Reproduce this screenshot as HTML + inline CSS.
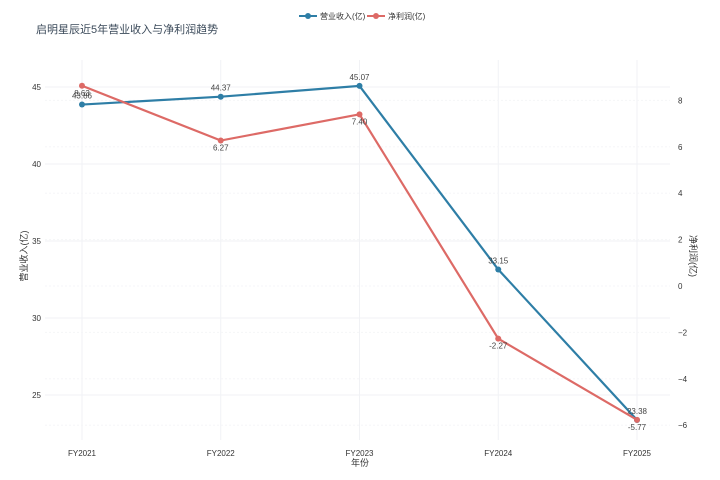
<!DOCTYPE html>
<html><head><meta charset="utf-8"><style>
body{margin:0;background:#fff;}
svg{display:block;font-family:"Liberation Sans","Noto Sans CJK SC",sans-serif;}
</style></head><body>
<svg id="chart" width="720" height="480">
<text x="36" y="33" font-size="11" fill="#3b4a5a">启明星辰近5年营业收入与净利润趋势</text>
<g>
<g><line x1="299" y1="16" x2="317" y2="16" stroke="#2e7ea6" stroke-width="2"/><circle cx="308" cy="16" r="3" fill="#2e7ea6"/><text x="320" y="19" font-size="8" fill="#333">营业收入(亿)</text></g>
<g><line x1="367" y1="16" x2="385" y2="16" stroke="#dd6a66" stroke-width="2"/><circle cx="376" cy="16" r="3" fill="#dd6a66"/><text x="388" y="19" font-size="8" fill="#333">净利润(亿)</text></g>
</g>
<g id="grid"></g><g id="axes"></g><g id="series"></g>
<text x="360" y="466" font-size="9" fill="#333" text-anchor="middle">年份</text>
<text transform="translate(27,256) rotate(-90)" font-size="9" fill="#333" text-anchor="middle">营业收入(亿)</text>
<text transform="translate(690,256) rotate(90)" font-size="9" fill="#333" text-anchor="middle">净利润(亿)</text>
</svg>
<script>
const categories=["FY2021","FY2022","FY2023","FY2024","FY2025"];
const revenue=[43.86,44.37,45.07,33.15,23.38];
const profit=[8.63,6.27,7.40,-2.27,-5.77];
const leftTicks=[25,30,35,40,45];
const rightTicks=[-6,-4,-2,0,2,4,6,8];
const NS="http://www.w3.org/2000/svg";
const xS=i=>82+i*138.75;
const yL=v=>87+(45-v)*15.4;
const yR=v=>286-v*23.2;
function mk(t,a,p){const e=document.createElementNS(NS,t);for(const k in a)e.setAttribute(k,a[k]);p.appendChild(e);return e;}
const grid=document.getElementById('grid'),axes=document.getElementById('axes'),ser=document.getElementById('series');
categories.forEach((c,i)=>{
 const g=mk('line',{x1:xS(i),x2:xS(i),y1:60,y2:440,stroke:'#f1f2f5'},grid);
 
 const t=mk('text',{x:xS(i),y:456,'font-size':8,fill:'#333','text-anchor':'middle'},axes);t.textContent=c;
 
});
leftTicks.forEach(v=>{
 const g=mk('line',{x1:45,x2:670,y1:yL(v),y2:yL(v),stroke:'#f1f2f5'},grid);
 
 const t=mk('text',{x:41,y:yL(v)+3,'font-size':8,fill:'#333','text-anchor':'end'},axes);t.textContent=v;
 
});
rightTicks.forEach(v=>{
 const g=mk('line',{x1:45,x2:670,y1:yR(v),y2:yR(v),stroke:'#f5f6f8','stroke-dasharray':'2,2'},grid);
 
 const t=mk('text',{x:678,y:yR(v)+3,'font-size':8,fill:'#333'},axes);t.textContent=(v<0?'\u2212'+(-v):v);
 
});
function draw(vals,ys,col,name,dy){
 const pl=mk('polyline',{points:vals.map((v,i)=>xS(i)+','+ys(v)).join(' '),fill:'none',stroke:col,'stroke-width':2.2},ser);
 
 vals.forEach((v,i)=>{
  const c=mk('circle',{cx:xS(i),cy:ys(v),r:3,fill:col},ser);
  
  const t=mk('text',{x:xS(i),y:ys(v)+dy,'font-size':8,fill:'#444','text-anchor':'middle'},ser);t.textContent=v.toFixed(2);
  
 });
}
draw(revenue,yL,'#2e7ea6','revenue',-6);
draw(profit,yR,'#dd6a66','profit',10);
</script>
</body></html>
